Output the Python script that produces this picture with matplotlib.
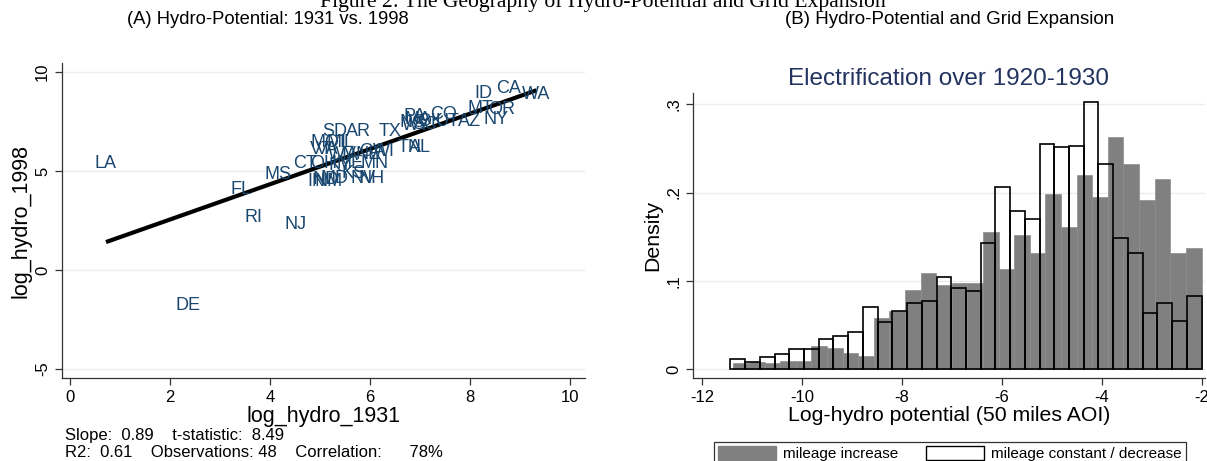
import numpy as np
import matplotlib
matplotlib.use("Agg")
import matplotlib.pyplot as plt
from matplotlib.patches import Patch

plt.rcParams['font.family'] = ['Liberation Sans', 'DejaVu Sans']
plt.rcParams['axes.unicode_minus'] = False

# ---------------- Panel A data ----------------
states = ["LA", "FL", "MS", "RI", "NJ", "DE",
          "CT", "OH", "IN", "NM", "ND", "KS", "NV", "NH", "MN", "KY", "ME", "MD",
          "SD", "AR", "MO", "MI", "IL", "VT", "VA", "WV", "IA", "NE", "WI", "GA",
          "TX", "TN", "AL",
          "PA", "CO", "WY", "SC", "NC", "OK", "MA", "UT",
          "ID", "CA", "WA", "MT", "OR", "NY", "AZ"]
hydro_1931 = [0.72, 3.42, 4.16, 3.66, 4.52, 2.36,
              4.70, 5.07, 4.93, 5.17, 5.12, 5.67, 5.87, 6.03, 6.10, 5.40, 5.60, 5.30,
              5.30, 5.77, 5.09, 5.33, 5.53, 5.03, 5.15, 5.45, 5.60, 5.96, 6.27, 6.05,
              6.40, 6.80, 7.00,
              6.90, 7.47, 6.93, 7.10, 6.85, 7.20, 6.95, 7.55,
              8.27, 8.77, 9.33, 8.20, 8.63, 8.53, 8.00]
hydro_1998 = [5.40, 4.09, 4.80, 2.63, 2.32, -1.77,
              5.39, 5.39, 4.46, 4.46, 4.55, 4.85, 4.63, 4.63, 5.39, 5.30, 5.39, 4.60,
              6.99, 6.99, 6.43, 6.43, 6.43, 6.06, 6.10, 5.85, 5.76, 5.81, 5.98, 6.00,
              6.99, 6.16, 6.16,
              7.74, 7.83, 7.32, 7.35, 7.45, 7.50, 7.60, 7.49,
              8.92, 9.17, 8.84, 8.17, 8.11, 7.58, 7.49]
fit_slope = 0.89
fit_intercept = 0.77
stats_line1 = "Slope:  0.89    t-statistic:  8.49"
stats_line2 = "R2:  0.61    Observations: 48    Correlation:      78%"

# ---------------- Panel B data ----------------
increase_range = (-11.38, -2.0)
increase_density = [0.0072, 0.0079, 0.0072, 0.0094, 0.0098, 0.0264, 0.0238, 0.0181,
                    0.0151, 0.0578, 0.0661, 0.0896, 0.109, 0.0952, 0.0979, 0.0975,
                    0.155, 0.113, 0.152, 0.132, 0.198, 0.161, 0.220, 0.195,
                    0.263, 0.232, 0.192, 0.215, 0.132, 0.1375]
constant_range = (-11.44, -2.0)
constant_density = [0.0117, 0.0079, 0.0136, 0.0174, 0.023, 0.023, 0.0347, 0.0381,
                    0.0419, 0.0702, 0.0532, 0.0664, 0.0755, 0.0777, 0.1042, 0.0925,
                    0.0891, 0.1423, 0.206, 0.179, 0.170, 0.255, 0.251, 0.253,
                    0.302, 0.232, 0.149, 0.131, 0.0642, 0.0755, 0.0551, 0.083]
xticks_b = [-12, -10, -8, -6, -4, -2]
yticks_b = [0, 0.1, 0.2, 0.3]
yticklabels_b = ["0", ".1", ".2", ".3"]

W, H = 1207, 461
fig = plt.figure(figsize=(W / 100, H / 100), dpi=100)

def ax_rect(l, t, r, b):
    return [l / W, 1 - b / H, (r - l) / W, (b - t) / H]

navy = "#1a476f"
grid_c = "#e6eef0"
spine_c = "#333333"

def style(ax):
    for s in ["top", "right"]:
        ax.spines[s].set_visible(False)
    for s in ["left", "bottom"]:
        ax.spines[s].set_color(spine_c)
        ax.spines[s].set_linewidth(0.9)
    ax.tick_params(direction="out", length=5, width=0.9, color=spine_c, labelsize=12)
    ax.yaxis.grid(True, color=grid_c, lw=1.0)
    ax.set_axisbelow(True)
    for lab in ax.get_yticklabels():
        lab.set_rotation(90)
        lab.set_va("center")

# ---------------- Panel A ----------------
axA = fig.add_axes(ax_rect(62, 63, 585, 378))
axA.set_xlim(-0.16, 10.3)
axA.set_ylim(-5.45, 10.45)
axA.set_xticks([0, 2, 4, 6, 8, 10])
axA.set_yticks([-5, 0, 5, 10])
style(axA)
for s, x, y in zip(states, hydro_1931, hydro_1998):
    axA.text(x, y, s, color=navy, fontsize=13, ha="center", va="center")
xs = np.array([min(hydro_1931), max(hydro_1931)])
axA.plot(xs, fit_intercept + fit_slope * xs, color="black", lw=3, solid_capstyle="butt")
axA.set_xlabel("log_hydro_1931", fontsize=15.5, labelpad=1)
axA.set_ylabel("log_hydro_1998", fontsize=15.5, labelpad=3)
fig.text(268 / W, 1 - 20 / H, "(A) Hydro-Potential: 1931 vs. 1998",
         fontsize=13.2, ha="center", va="center")
fig.text(65 / W, 1 - 435 / H, stats_line1, fontsize=12, ha="left", va="center")
fig.text(65 / W, 1 - 452 / H, stats_line2, fontsize=12, ha="left", va="center")

# ---------------- Panel B ----------------
axB = fig.add_axes(ax_rect(693, 93, 1205, 378))
axB.set_xlim(-12.19, -1.93)
axB.set_ylim(-0.0099, 0.3126)
axB.set_xticks(xticks_b)
axB.set_yticks(yticks_b)
axB.set_yticklabels(yticklabels_b)
style(axB)

e_inc = np.linspace(increase_range[0], increase_range[1], len(increase_density) + 1)
axB.bar(e_inc[:-1], increase_density, width=np.diff(e_inc), align="edge",
        color="#808080", edgecolor="#8c8c8c", lw=0.5, zorder=2)
e_con = np.linspace(constant_range[0], constant_range[1], len(constant_density) + 1)
axB.bar(e_con[:-1], constant_density, width=np.diff(e_con), align="edge",
        facecolor="none", edgecolor="black", lw=1.2, zorder=3)
axB.set_xlabel("Log-hydro potential (50 miles AOI)", fontsize=15.3, labelpad=1)
axB.set_ylabel("Density", fontsize=15.3, labelpad=3)
axB.set_title("Electrification over 1920-1930", fontsize=17.5, color="#22335f", pad=6)

handles = [Patch(facecolor="#808080", edgecolor="#808080"),
           Patch(facecolor="white", edgecolor="black", lw=1)]
leg = fig.legend(handles, ["mileage increase", "mileage constant / decrease"],
                 ncol=2, loc="upper left", bbox_to_anchor=(706 / W, 1 - 434 / H),
                 frameon=True, fancybox=False, fontsize=11, handlelength=3.8,
                 handleheight=1.0, columnspacing=1.8, borderpad=0.3,
                 handletextpad=0.45)
leg.get_frame().set_edgecolor("black")
leg.get_frame().set_linewidth(0.9)

fig.text(950 / W, 1 - 20 / H, "(B) Hydro-Potential and Grid Expansion",
         fontsize=13.5, ha="center", va="center")
fig.text(603 / W, 1 - 7 / H, "Figure 2: The Geography of Hydro-Potential and Grid Expansion",
         fontsize=15.6, ha="center", va="baseline", family="Liberation Serif")

fig.savefig("out.png", dpi=100)
